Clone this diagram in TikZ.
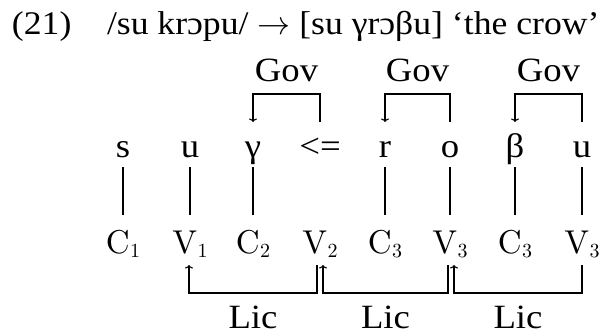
\RequirePackage{fix-cm}
\documentclass[tikz,border=0pt]{standalone}
\usepackage{fontspec}
\newfontfamily\pal[FakeStretch=1.08]{Liberation Serif}
\newfontfamily\lmten{lmroman10-regular.otf}
\newcommand{\cvlab}[2]{\lmten #1\kern0.5pt\raisebox{-4pt}{\fontsize{20}{24}\selectfont #2}}
\usetikzlibrary{arrows.meta}
\begin{document}
\begin{tikzpicture}[x=1pt,y=-1pt,
  every node/.style={inner sep=0pt,outer sep=0pt},
  txt/.style={font=\pal\fontsize{34}{40}\selectfont,anchor=base},
  ttl/.style={font=\pal\fontsize{33}{40}\selectfont,anchor=base west},
  cv/.style={font=\lmten\fontsize{33}{39}\selectfont,anchor=base},
  lnk/.style={line width=1.1pt},
  arr/.style={lnk,-{To[length=3.5pt,width=8pt]}}]
\useasboundingbox (0,0) rectangle (601,334);
% title
\node[ttl] (num) at (12,35) {(21)};
\node[ttl] (title) at (107,35) {/su krɔpu/ $\rightarrow$ [su γrɔβu] ‘the crow’};
% segments
\foreach \x/\t [count=\i] in {123/s,190/u,253/γ,320/{<=},385/r,450/o,515/β,582/u}
  \node[txt] (l\i) at (\x,157) {\t};
% skeleton
\foreach \x/\a/\b [count=\i] in {123/C/1,190/V/1,253/C/2,320/V/2,385/C/3,450/V/3,515/C/3,582/V/3}
  \node[cv] (c\i) at (\x,253) {\cvlab{\a}{\b}};
% association lines
\foreach \i in {1,2,3,5,6,7,8}
  \draw[lnk] ([yshift=-10pt]l\i.base) -- ([yshift=38pt]c\i.base);
% government
\node[txt] (g1) at (286.5,82) {Gov};
\node[txt] (g2) at (417.5,82) {Gov};
\node[txt] (g3) at (548.5,82) {Gov};
\draw[arr] ([yshift=35pt]l4.base) |- ([yshift=-12pt]g1.base) -| ([yshift=35pt]l3.base);
\draw[arr] ([yshift=35pt]l6.base) |- ([yshift=-12pt]g2.base) -| ([yshift=35pt]l5.base);
\draw[arr] ([yshift=35pt]l8.base) |- ([yshift=-12pt]g3.base) -| ([yshift=35pt]l7.base);
% licensing
\node[txt] (lic1) at (253,328) {Lic};
\node[txt] (lic2) at (385.5,328) {Lic};
\node[txt] (lic3) at (518,328) {Lic};
\draw[arr] ([xshift=-3pt,yshift=-12pt]c4.base) |- ([yshift=35pt]lic1.base) -| ([xshift=-1pt,yshift=-12pt]c2.base);
\draw[arr] ([xshift=-2pt,yshift=-12pt]c6.base) |- ([yshift=35pt]lic2.base) -| ([xshift=3pt,yshift=-12pt]c4.base);
\draw[arr] ([yshift=-12pt]c8.base) |- ([yshift=35pt]lic3.base) -| ([xshift=4pt,yshift=-12pt]c6.base);
\end{tikzpicture}
\end{document}
